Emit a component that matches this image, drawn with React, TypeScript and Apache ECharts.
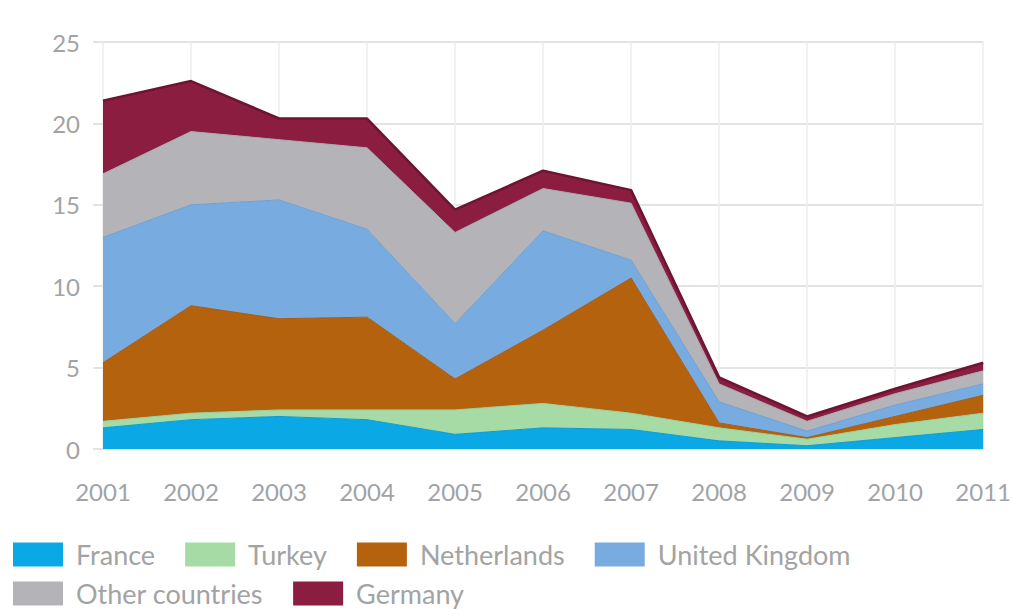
import React, { useEffect, useRef } from "react";
import * as echarts from "echarts";

const years = ["2001", "2002", "2003", "2004", "2005", "2006", "2007", "2008", "2009", "2010", "2011"];
const france = [1.3, 1.8, 2.0, 1.8, 0.9, 1.3, 1.2, 0.5, 0.2, 0.7, 1.2];
const turkey = [0.4, 0.4, 0.4, 0.6, 1.5, 1.5, 1.0, 0.8, 0.4, 0.8, 1.0];
const netherlands = [3.6, 6.6, 5.6, 5.7, 1.9, 4.5, 8.3, 0.3, 0.1, 0.5, 1.1];
const unitedKingdom = [7.7, 6.2, 7.3, 5.4, 3.4, 6.1, 1.1, 1.3, 0.4, 0.7, 0.7];
const otherCountries = [3.9, 4.5, 3.7, 5.0, 5.6, 2.6, 3.5, 1.1, 0.6, 0.7, 0.8];
const germany = [4.5, 3.1, 1.3, 1.8, 1.4, 1.1, 0.8, 0.4, 0.3, 0.3, 0.5];

const seriesDefs = [
  { name: "France", data: france, color: "#0aa9e6", line: "#0a9bd3", w: 1 },
  { name: "Turkey", data: turkey, color: "#a6dba6", line: "#9ccf9c", w: 1 },
  { name: "Netherlands", data: netherlands, color: "#b5620e", line: "#a8590c", w: 1 },
  { name: "United Kingdom", data: unitedKingdom, color: "#78ace0", line: "#6e9fd2", w: 1 },
  { name: "Other countries", data: otherCountries, color: "#b4b4b8", line: "#a9a9ad", w: 1 },
  { name: "Germany", data: germany, color: "#8b1d41", line: "#6e1433", w: 2.5 },
];

export default function App() {
  const ref = useRef<HTMLDivElement>(null);
  useEffect(() => {
    if (!ref.current) return;
    const chart = echarts.init(ref.current, null, { renderer: "svg" });
    const legendText = { color: "#a3a3a3", fontSize: 27, lineHeight: 24, fontFamily: "Lato", padding: [0, 0, 0, 8] };
    chart.setOption({
      animation: false,
      backgroundColor: "#ffffff",
      grid: { left: 103, right: 28, top: 42, bottom: 160 },
      legend: [
        {
          left: 13,
          top: 541,
          padding: 0,
          itemWidth: 50,
          itemHeight: 24,
          itemGap: 30,
          icon: "rect",
          data: ["France", "Turkey", "Netherlands", "United Kingdom"],
          textStyle: legendText,
          selectedMode: false,
        },
        {
          left: 13,
          top: 580,
          padding: 0,
          itemWidth: 50,
          itemHeight: 24,
          itemGap: 30,
          icon: "rect",
          data: ["Other countries", "Germany"],
          textStyle: legendText,
          selectedMode: false,
        },
      ],
      xAxis: {
        type: "category",
        data: years,
        boundaryGap: false,
        axisLine: { show: false },
        axisTick: { show: false },
        axisLabel: { color: "#a3a3a3", fontSize: 24, fontFamily: "Lato", margin: 30 },
        splitLine: { show: true, lineStyle: { color: "#ececec", width: 1.5 } },
      },
      yAxis: {
        type: "value",
        min: 0,
        max: 25,
        interval: 5,
        axisLine: { show: false },
        axisTick: { show: true, length: 10, lineStyle: { color: "#e3e3e3", width: 2 } },
        axisLabel: { color: "#a3a3a3", fontSize: 24, fontFamily: "Lato", margin: 23 },
        splitLine: { show: true, lineStyle: { color: "#e3e3e3", width: 2 } },
      },
      series: seriesDefs.map((s) => ({
        name: s.name,
        type: "line",
        stack: "total",
        data: s.data,
        symbol: "none",
        color: s.color,
        lineStyle: { color: s.line, width: s.w },
        areaStyle: { color: s.color, opacity: 1 },
      })),
    });
    return () => chart.dispose();
  }, []);
  return <div ref={ref} style={{ position: "fixed", left: 0, top: 0, width: 1014, height: 609 }} />;
}
